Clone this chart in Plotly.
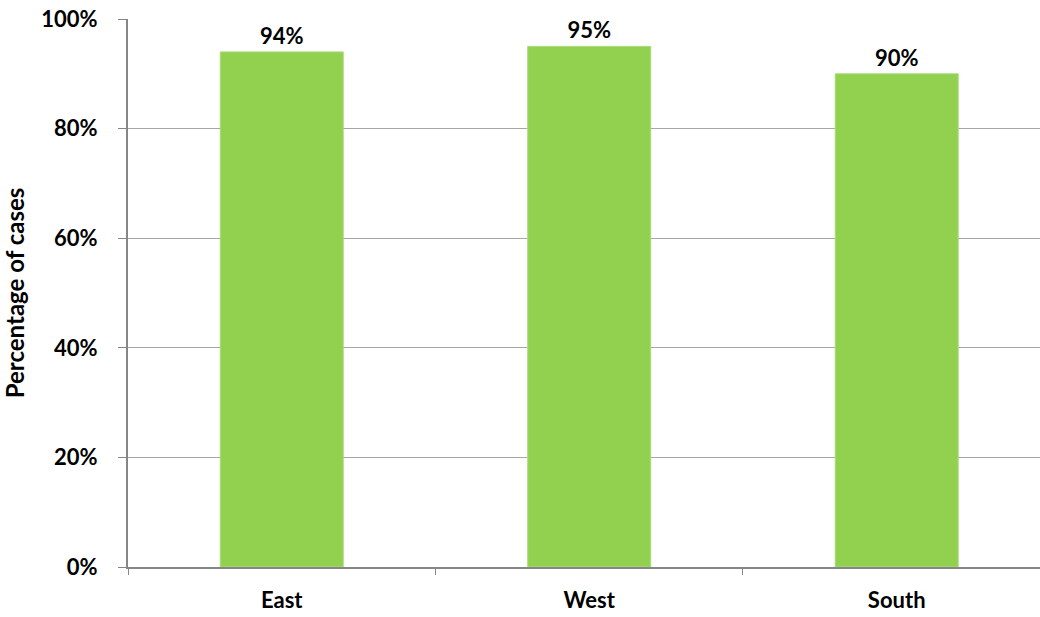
import plotly.graph_objects as go

categories = ["East", "West", "South"]
values = [94, 95, 90]
labels = ["94%", "95%", "90%"]
tick_vals = [0, 20, 40, 60, 80, 100]
tick_text = ["0%", "20%", "40%", "60%", "80%", "100%"]

FONT = "Lato"

fig = go.Figure(go.Bar(
    x=categories, y=values, text=labels, textposition="outside",
    textfont=dict(family=FONT, size=22, color="black", weight="bold"),
    marker=dict(color="#92D050", line=dict(color="#a9dc78", width=1)),
    width=0.4, cliponaxis=False,
))

fig.update_layout(
    width=1040, height=617,
    margin=dict(l=128, r=0, t=19, b=50),
    plot_bgcolor="white", paper_bgcolor="white",
    showlegend=False,
    font=dict(family=FONT, size=22, color="black"),
    xaxis=dict(
        range=[-0.5, 2.466], showgrid=False, automargin=False,
        showline=True, linecolor="#868686", linewidth=2,
        ticks="outside", tickson="boundaries", ticklen=6, tickcolor="#868686",
        tickfont=dict(family=FONT, size=22, color="black", weight="bold"),
        ticklabelstandoff=13, ticklabeloverflow="allow",
    ),
    yaxis=dict(
        range=[0, 100], tickvals=tick_vals, ticktext=tick_text, automargin=False,
        showgrid=True, gridcolor="#a6a6a6", gridwidth=1,
        showline=True, linecolor="#868686", linewidth=2,
        ticks="outside", ticklen=8, tickcolor="#868686",
        tickfont=dict(family=FONT, size=22, color="black", weight="bold"),
        ticklabelstandoff=16, ticklabeloverflow="allow",
        zeroline=False,
        title=dict(text="Percentage of cases", standoff=32,
                   font=dict(family=FONT, size=24, color="black", weight="bold")),
    ),
)

# remove the default 8px page margin so the figure fills the window exactly
fig.write_html("out.html", config={"displayModeBar": False},
               post_script="document.body.style.margin='0';")
